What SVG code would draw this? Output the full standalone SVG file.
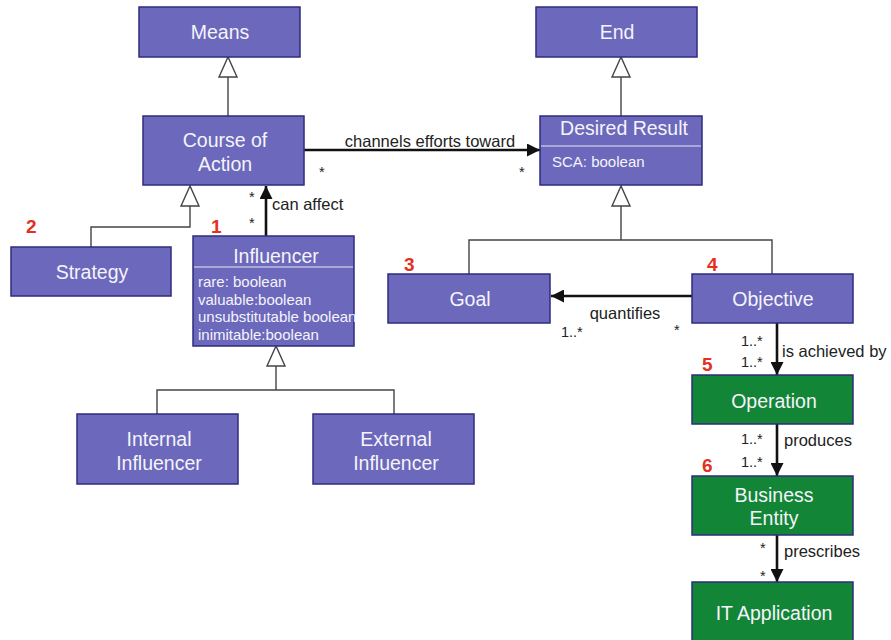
<svg xmlns="http://www.w3.org/2000/svg" width="891" height="640" viewBox="0 0 891 640">
  <defs>
    <style>
      .cls { fill: #6c68bb; stroke: #2f2b80; stroke-width: 1.5; }
      .op { fill: #128537; stroke: #2f2b80; stroke-width: 1.5; }
      .name { font-family: "Liberation Sans", Arial, sans-serif; font-size: 19.5px; fill: #f4f4fa; text-anchor: middle; }
      .attr { font-family: "Liberation Sans", Arial, sans-serif; font-size: 15px; fill: #f4f4fa; }
      .sep { stroke: #e8e8f4; stroke-width: 1; }
      .gen { fill: none; stroke: #444; stroke-width: 1.4; }
      .assoc { fill: none; stroke: #111; stroke-width: 2.6; }
      .lbl { font-family: "Liberation Sans", Arial, sans-serif; font-size: 16.5px; fill: #222; }
      .mult { font-family: "Liberation Sans", Arial, sans-serif; font-size: 14.5px; fill: #222; }
      .num { font-family: "Liberation Sans", Arial, sans-serif; font-size: 19px; font-weight: bold; fill: #e3301f; }
    </style>
    <marker id="arrow" viewBox="0 0 10 10" refX="10" refY="5" markerWidth="5" markerHeight="5" orient="auto" markerUnits="strokeWidth">
      <path d="M0,0 L10,5 L0,10 z" fill="#111"/>
    </marker>
  </defs>

  <!-- connectors -->
  <g id="connectors">
    <!-- generalizations -->
    <g class="gen">
      <path d="M228,77 V116"/>
      <polygon points="228,57 219,77 237,77" fill="#fff"/>
      <path d="M621,77 V116"/>
      <polygon points="621,57 612,77 630,77" fill="#fff"/>
      <path d="M190,206 V227 H91 V247"/>
      <polygon points="190,186 181,206 199,206" fill="#fff"/>
      <path d="M621,206 V240 M469,274 V240 H772 V274"/>
      <polygon points="621,186 612,206 630,206" fill="#fff"/>
      <path d="M276,366 V390 M157,414 V390 H394 V414"/>
      <polygon points="276,346 267,366 285,366" fill="#fff"/>
    </g>
    <!-- associations -->
    <g class="assoc">
      <path d="M304,150 H540" marker-end="url(#arrow)"/>
      <path d="M266,236 V186" marker-end="url(#arrow)"/>
      <path d="M692,296 H551" marker-end="url(#arrow)"/>
      <path d="M777,323 V375" marker-end="url(#arrow)"/>
      <path d="M777,424 V476" marker-end="url(#arrow)"/>
      <path d="M777,535 V582" marker-end="url(#arrow)"/>
    </g>
    <text class="lbl" x="430" y="147" text-anchor="middle">channels efforts toward</text>
    <text class="mult" x="319" y="177">*</text>
    <text class="mult" x="519" y="177">*</text>
    <text class="lbl" x="272" y="210">can affect</text>
    <text class="mult" x="249" y="202">*</text>
    <text class="mult" x="249" y="228">*</text>
    <text class="lbl" x="625" y="319" text-anchor="middle">quantifies</text>
    <text class="mult" x="561" y="337">1..*</text>
    <text class="mult" x="674" y="335">*</text>
    <text class="lbl" x="782" y="357">is achieved by</text>
    <text class="mult" x="741" y="346">1..*</text>
    <text class="mult" x="741" y="367">1..*</text>
    <text class="lbl" x="784" y="446">produces</text>
    <text class="mult" x="741" y="444">1..*</text>
    <text class="mult" x="741" y="467">1..*</text>
    <text class="lbl" x="784" y="557">prescribes</text>
    <text class="mult" x="760" y="553">*</text>
    <text class="mult" x="760" y="581">*</text>
  </g>

  <!-- nodes -->
  <g id="means">
    <rect class="cls" x="139" y="7" width="161" height="50"/>
    <text class="name" x="220" y="39">Means</text>
  </g>
  <g id="end">
    <rect class="cls" x="536" y="7" width="161" height="50"/>
    <text class="name" x="617" y="39">End</text>
  </g>
  <g id="course-of-action">
    <rect class="cls" x="143" y="116" width="161" height="69"/>
    <text class="name" x="225" y="147">Course of</text>
    <text class="name" x="225" y="171">Action</text>
  </g>
  <g id="desired-result">
    <rect class="cls" x="540" y="116" width="162" height="69"/>
    <text class="name" x="624" y="135">Desired Result</text>
    <line class="sep" x1="541" y1="146" x2="701" y2="146"/>
    <text class="attr" x="552" y="167">SCA: boolean</text>
  </g>
  <g id="strategy">
    <rect class="cls" x="11" y="247" width="160" height="49"/>
    <text class="name" x="92" y="279">Strategy</text>
    <text class="num" x="26" y="233">2</text>
  </g>
  <g id="influencer">
    <rect class="cls" x="193" y="236" width="161" height="110"/>
    <text class="name" x="276" y="263">Influencer</text>
    <line class="sep" x1="194" y1="267" x2="353" y2="267"/>
    <text class="attr" x="198" y="287">rare: boolean</text>
    <text class="attr" x="198" y="305">valuable:boolean</text>
    <text class="attr" x="198" y="322">unsubstitutable boolean</text>
    <text class="attr" x="198" y="340">inimitable:boolean</text>
    <text class="num" x="211" y="233">1</text>
  </g>
  <g id="internal-influencer">
    <rect class="cls" x="77" y="414" width="161" height="70"/>
    <text class="name" x="159" y="446">Internal</text>
    <text class="name" x="159" y="470">Influencer</text>
  </g>
  <g id="external-influencer">
    <rect class="cls" x="313" y="414" width="161" height="70"/>
    <text class="name" x="396" y="446">External</text>
    <text class="name" x="396" y="470">Influencer</text>
  </g>
  <g id="goal">
    <rect class="cls" x="388" y="274" width="162" height="49"/>
    <text class="name" x="470" y="306">Goal</text>
    <text class="num" x="404" y="271">3</text>
  </g>
  <g id="objective">
    <rect class="cls" x="692" y="274" width="161" height="49"/>
    <text class="name" x="773" y="306">Objective</text>
    <text class="num" x="707" y="271">4</text>
  </g>
  <g id="operation">
    <rect class="op" x="692" y="375" width="161" height="49"/>
    <text class="name" x="774" y="408">Operation</text>
    <text class="num" x="702" y="371">5</text>
  </g>
  <g id="business-entity">
    <rect class="op" x="692" y="476" width="161" height="59"/>
    <text class="name" x="774" y="502">Business</text>
    <text class="name" x="774" y="525">Entity</text>
    <text class="num" x="702" y="472">6</text>
  </g>
  <g id="it-application">
    <rect class="op" x="692" y="582" width="161" height="66"/>
    <text class="name" x="774" y="620">IT Application</text>
  </g>
</svg>
